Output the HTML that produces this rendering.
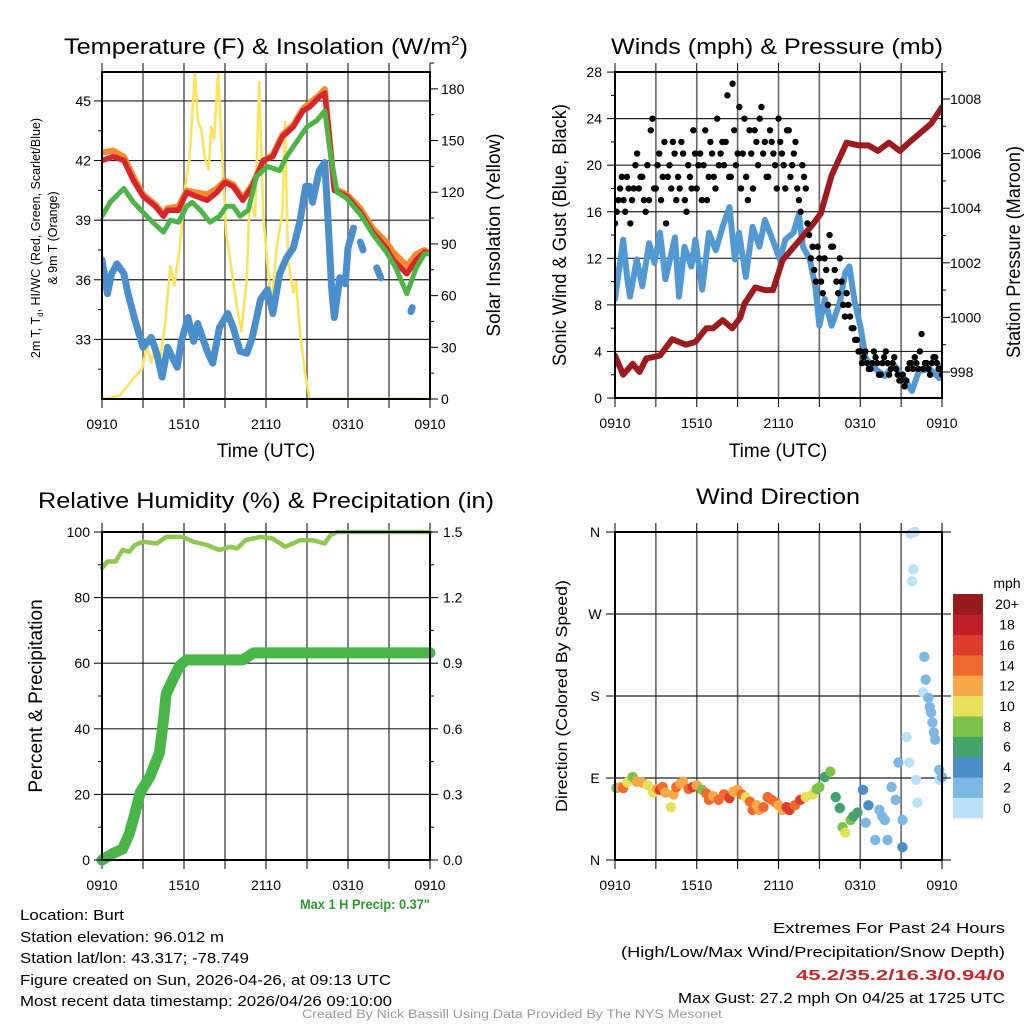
<!DOCTYPE html>
<html><head><meta charset="utf-8"><style>
html,body{margin:0;padding:0;background:#fff;}
svg{display:block;font-family:"Liberation Sans",Arial,sans-serif;}
</style></head><body>
<svg id="root" xmlns="http://www.w3.org/2000/svg" width="1024" height="1024" viewBox="0 0 1024 1024">
<rect width="1024" height="1024" fill="#fff"/>
<g id="p1"></g>
<g id="p2"></g>
<g id="p3"></g>
<g id="p4"></g>
<g id="txt">
<text x="266" y="54" font-size="22" text-anchor="middle" textLength="404" lengthAdjust="spacingAndGlyphs">Temperature (F) &amp; Insolation (W/m<tspan font-size="13" dy="-9">2</tspan><tspan dy="9">)</tspan></text>
<text x="777" y="54" font-size="22" text-anchor="middle" textLength="332" lengthAdjust="spacingAndGlyphs">Winds (mph) &amp; Pressure (mb)</text>
<text x="266" y="508" font-size="22" text-anchor="middle" textLength="456" lengthAdjust="spacingAndGlyphs">Relative Humidity (%) &amp; Precipitation (in)</text>
<text x="778" y="504" font-size="22" text-anchor="middle" textLength="164" lengthAdjust="spacingAndGlyphs">Wind Direction</text>
<text x="266" y="457" font-size="19" text-anchor="middle">Time (UTC)</text>
<text x="778" y="457" font-size="19" text-anchor="middle">Time (UTC)</text>
<text transform="translate(40,238) rotate(-90)" font-size="12.5" text-anchor="middle">2m T, T<tspan font-size="8" dy="3">d</tspan><tspan dy="-3">, HI/WC (Red, Green, Scarlet/Blue)</tspan></text>
<text transform="translate(57,238) rotate(-90)" font-size="12.5" text-anchor="middle">&amp; 9m T (Orange)</text>
<text transform="translate(500,235) rotate(-90)" font-size="19" text-anchor="middle">Solar Insolation (Yellow)</text>
<text transform="translate(566,235) rotate(-90)" font-size="19" text-anchor="middle" textLength="262" lengthAdjust="spacingAndGlyphs">Sonic Wind &amp; Gust (Blue, Black)</text>
<text transform="translate(1020,252) rotate(-90)" font-size="19" text-anchor="middle" textLength="212" lengthAdjust="spacingAndGlyphs">Station Pressure (Maroon)</text>
<text transform="translate(42,696) rotate(-90)" font-size="19" text-anchor="middle">Percent &amp; Precipitation</text>
<text transform="translate(567,696) rotate(-90)" font-size="16" text-anchor="middle" textLength="232" lengthAdjust="spacingAndGlyphs">Direction (Colored By Speed)</text>
<text x="430" y="909" font-size="14" font-weight="bold" fill="#2e9a2e" text-anchor="end" textLength="130" lengthAdjust="spacingAndGlyphs">Max 1 H Precip: 0.37"</text>
<g font-size="14.5">
<text x="20" y="920" textLength="104" lengthAdjust="spacingAndGlyphs">Location: Burt</text>
<text x="20" y="942" textLength="204" lengthAdjust="spacingAndGlyphs">Station elevation: 96.012 m</text>
<text x="20" y="963" textLength="229" lengthAdjust="spacingAndGlyphs">Station lat/lon: 43.317; -78.749</text>
<text x="20" y="985" textLength="371" lengthAdjust="spacingAndGlyphs">Figure created on Sun, 2026-04-26, at 09:13 UTC</text>
<text x="20" y="1006" textLength="372" lengthAdjust="spacingAndGlyphs">Most recent data timestamp: 2026/04/26 09:10:00</text>
</g>
<g font-size="14.5" text-anchor="end">
<text x="1005" y="933" textLength="232" lengthAdjust="spacingAndGlyphs">Extremes For Past 24 Hours</text>
<text x="1005" y="957" textLength="384" lengthAdjust="spacingAndGlyphs">(High/Low/Max Wind/Precipitation/Snow Depth)</text>
<text x="1005" y="980" font-weight="bold" fill="#c8262b" textLength="209" lengthAdjust="spacingAndGlyphs">45.2/35.2/16.3/0.94/0</text>
<text x="1005" y="1003" textLength="327" lengthAdjust="spacingAndGlyphs">Max Gust: 27.2 mph On 04/25 at 1725 UTC</text>
</g>
<text x="512" y="1018" font-size="11.5" fill="#999" text-anchor="middle" textLength="420" lengthAdjust="spacingAndGlyphs">Created By Nick Bassill Using Data Provided By The NYS Mesonet</text>
</g>
</svg>
<script>
// ---------- DATA ----------
const xTickLabels = ["0910","1510","2110","0310","0910"];
const tempTicks = [33,36,39,42,45];
const insolTicks = [0,30,60,90,120,150,180];
const windTicks = [0,4,8,12,16,20,24,28];
const presTicks = [998,1000,1002,1004,1006,1008];
const rhTicks = [0,20,40,60,80,100];
const precipTicks = ["0.0","0.3","0.6","0.9","1.2","1.5"];
const dirTickLabels = ["N","E","S","W","N"];
const speedLabels = ["0","2","4","6","8","10","12","14","16","18","20+"];
const speedColors = ["#b9e2f8","#7db8e4","#4a8ec8","#44a26c","#7cc14a","#e6e05a","#f6a746","#ef6a2e","#df3b2d","#c01f28","#961b1f"];

const redT = [0,0.8,1.6,2.3,3.0,3.9,4.5,4.8,5.6,6.2,6.9,7.7,8.4,9.0,9.6,10.3,11.0,11.8,12.5,13.2,14.0,14.7,15.2,15.9,16.3,16.7,17.0,17.9,18.9,19.8,20.8,21.3,22.3,23.0,23.6,24];
const redV = [42.0,42.2,42.0,41.0,40.2,39.7,39.2,39.5,39.5,40.4,40.2,40.0,40.4,40.9,40.7,40.0,40.7,42.0,42.2,43.2,43.7,44.5,44.7,45.2,45.4,42.7,40.5,40.2,39.4,38.4,37.6,37.0,36.3,37.0,37.4,37.3];
const orangeV = [42.4,42.5,42.2,41.2,40.3,39.8,39.3,39.6,39.7,40.5,40.4,40.3,40.6,41.0,40.8,40.1,40.8,42.0,42.3,43.3,43.8,44.6,44.9,45.3,45.6,42.8,40.6,40.3,39.6,38.6,37.9,37.4,36.7,37.3,37.5,37.3];
const greenT = [0,0.6,1.6,2.3,3.0,3.7,4.5,5.0,5.6,6.2,6.6,7.2,7.9,8.6,9.1,9.6,10.1,10.7,11.3,12.1,13.0,13.5,14.3,15.0,15.7,16.3,16.7,17.2,17.9,18.9,19.8,20.8,21.5,22.3,23.0,23.6,24];
const greenV = [39.2,39.9,40.6,39.9,39.4,38.9,38.4,39.0,38.9,39.7,39.9,39.5,38.9,39.2,39.7,39.7,39.2,39.5,41.2,41.7,41.5,42.2,43.0,43.7,44.0,44.5,42.4,40.4,40.1,39.3,38.3,37.4,36.6,35.3,36.6,37.3,37.3];
const dewT = [0,0.4,0.7,1.1,1.6,1.9,2.4,3.0,3.6,4.0,4.4,4.8,5.5,5.8,6.3,6.7,7.0,7.7,8.1,8.6,9.2,9.6,10.1,10.6,11.0,11.6,12.1,12.5,13.0,13.5,14.0,14.5,14.9,15.2,15.4,15.9,16.3,16.5,16.8,17.0,17.4,17.8,18.0,18.4,18.6,18.9,19.1,19.2,20.1,20.4,20.5,22.6,22.7,22.9,23.1];
const dewV = [37.0,35.3,36.3,36.8,36.3,35.3,34.0,32.6,33.1,32.3,31.1,32.6,31.6,32.9,34.1,32.9,33.8,32.4,31.8,33.6,34.3,33.6,32.4,32.3,33.1,35.0,35.5,34.3,36.3,37.1,37.6,39.0,40.7,40.7,39.9,41.5,41.9,39.5,35.6,34.1,36.1,35.8,37.6,38.6,null,37.9,37.5,null,36.6,36.1,null,34.4,34.6,null,35.0];
const insolT = [0,1.3,2.3,2.9,3.3,3.6,3.9,4.2,4.6,5.0,5.3,5.7,6.1,6.4,6.8,7.0,7.3,7.5,7.8,8.0,8.2,8.5,8.8,9.1,9.5,9.9,10.2,10.6,10.8,11.2,11.5,11.8,12.1,12.4,12.8,13.2,13.4,13.6,14.0,14.2,14.5,14.9,15.2,24];
const insolV = [0,2,12,17,31,21,31,21,42,77,66,89,124,139,190,162,155,141,133,158,151,190,139,95,74,52,39,71,116,106,184,106,79,54,89,108,161,81,62,68,37,13,0,0];

const presT = [0,0.6,1.3,1.8,2.3,3.3,4.2,5.2,5.9,6.7,7.2,7.9,8.6,9.2,9.5,10.3,11.0,11.6,12.3,13.5,14.5,15.1,15.9,17.0,17.9,18.6,19.3,20.1,20.9,21.8,22.5,23.2,24];
const presV = [998.6,997.9,998.3,998.0,998.5,998.6,999.2,999.0,999.1,999.6,999.6,999.9,999.6,1000.0,1000.5,1001.1,1001.0,1001.0,1002.1,1002.8,1003.4,1003.8,1005.2,1006.4,1006.3,1006.3,1006.1,1006.4,1006.1,1006.5,1006.8,1007.1,1007.7];
const windT = [0,0.6,0.9,1.1,1.6,2.0,2.5,2.9,3.3,3.7,4.4,4.7,5.1,5.6,5.9,6.4,6.9,7.4,7.9,8.4,8.8,9.1,9.6,10.1,10.6,11.0,11.5,12.1,12.5,13.1,13.5,13.8,14.3,14.7,15.0,15.4,15.9,16.5,16.9,17.2,17.6,18.0,18.4,19.1,19.8,20.5,21.1,21.8,22.3,23.1,23.8,24];
const windV = [8.5,13.6,10.2,8.7,11.9,9.6,13.3,11.6,14.2,10.2,13.8,8.7,13.0,11.3,13.6,9.3,14.2,12.7,14.7,16.4,11.9,14.2,10.4,14.7,13.0,15.3,13.8,11.9,13.6,14.2,15.8,13.0,11.9,9.6,6.2,8.5,6.2,8.2,10.8,11.3,8.2,6.2,3.4,2.5,1.9,2.8,1.9,0.6,2.3,2.5,1.7,2.8];
const gustA = [15,17,19,16,18,17,20,18, 19,16,17,24,18,21,19,15, 20,22,17,18,21,16,19,23, 18,21,20,17,22,19,24,21, 20,26,19,23,21,18,24,17, 21,23,20,25,22,19,22,20, 24,21,18,23,20,22,17,20, 18,14,13,10,12,9,11,14, 13,10,12,8,9,7,6,5, 4,3.5,3,2.5,4,3,2,3.5, 3,2.5,3.5,2,1.5,1,2.5,3, 3.5,2.5,5.5,3,2.5,3,3.5,2.5,2];
const gustB = [16,18,17,19,15,18,21,19, 17,20,23,18,20,17,22,19, 18,21,19,22,17,20,18,21, 20,17,23,19,21,18,20,22, 22,19,27,20,25,21,19,23, 18,22,24,21,19,23,21,18, 22,20,23,19,21,18,16,19, 15,12,11,13,10,12,8,13, 11,9,10,7,8,6,5,4, 3,4,2.5,3,3.5,2,3,4, 2,3,2.5,1.5,2,1.5,3,2.5, 3,4,2.5,3,2,3.5,3,2.5];

const rhT = [0,0.4,1.0,1.5,2.0,2.4,3.0,4.0,4.7,5.9,6.7,7.7,8.6,9.4,9.9,10.5,11.6,12.5,13.4,14.5,15.4,16.3,16.7,17.2,24];
const rhV = [89,91,91,94.5,94,96,97,96.5,98.5,98.5,97,96,94.5,95.5,95,97.5,98.5,98,95.5,97.5,97.5,96.5,99,100,100];
const prT = [0,0.8,1.5,2.0,2.4,2.8,3.5,4.2,4.5,4.7,5.3,5.7,6.2,10.3,11.1,24];
const prV = [0,0.03,0.05,0.12,0.21,0.31,0.38,0.49,0.64,0.76,0.84,0.89,0.915,0.915,0.947,0.947];

const dirT = [0.1,0.4,0.6,0.9,1.3,1.6,2.0,2.4,2.8,3.1,3.3,3.5,3.7,4.1,4.3,4.5,4.8,5.0,5.4,5.7,6.0,6.4,6.7,6.9,7.2,7.6,8.0,8.4,8.7,9.0,9.3,9.6,9.9,10.1,10.4,10.6,10.9,11.2,11.5,11.8,12.0,12.3,12.6,12.8,13.2,13.6,14.0,14.5,14.8,15.0,15.4,15.8,16.2,16.5,16.7,16.9,17.3,17.5,17.8,18.2,18.4,18.6,19.1,19.4,19.6,19.8,20.0,20.3,20.6,20.8,21.1,21.1,21.4,21.6,21.7,22.0,21.8,21.9,22.1,22.2,22.7,22.8,22.6,23.0,23.1,23.2,23.3,23.4,23.5,23.8,23.8,24.0];
const dirV = [79,80,79,85,91,86,85,82,74,78,77,80,74,58,72,80,84,86,78,80,82,77,73,66,70,66,72,68,75,77,72,69,64,55,60,55,58,69,66,63,60,55,58,55,60,66,69,72,78,80,91,97,69,57,36,30,44,48,52,77,41,60,22,55,48,44,22,80,66,107,44,14,135,107,358,360,306,319,88,63,223,198,184,178,168,162,151,140,132,99,88,91];
const dirS = [8,12,14,10,8,12,12,10,10,12,16,14,12,10,12,14,12,12,14,16,12,8,14,14,12,14,14,16,12,12,14,10,14,14,12,12,14,14,14,14,12,12,16,16,14,16,10,10,8,8,6,8,6,6,8,10,8,6,6,4,2,4,2,2,2,2,2,2,2,2,2,4,0,0,0,0,0,0,0,0,2,2,0,2,2,2,2,2,2,2,0,2];

// ---------- HELPERS ----------
const NS = "http://www.w3.org/2000/svg";
function mk(parent, tag, attrs) {
  const e = document.createElementNS(NS, tag);
  for (const k in attrs) e.setAttribute(k, attrs[k]);
  parent.appendChild(e);
  return e;
}
function txt(parent, x, y, s, size, anchor) {
  const e = mk(parent, "text", {x: x, y: y, "font-size": size, "text-anchor": anchor || "middle"});
  e.textContent = s;
  return e;
}
function polyline(g, ts, vs, xf, yf, color, w) {
  let seg = [];
  const segs = [];
  for (let i = 0; i < ts.length; i++) {
    if (vs[i] === null) { if (seg.length) segs.push(seg); seg = []; continue; }
    seg.push(xf(ts[i]).toFixed(1) + "," + yf(vs[i]).toFixed(1));
  }
  if (seg.length) segs.push(seg);
  segs.forEach(s => {
    const p = mk(g, "polyline", {points: s.join(" "), fill: "none", stroke: color, "stroke-width": w, "stroke-linejoin": "round", "stroke-linecap": "round"});
    
    
  });
}
function frame(g, X0, X1, Y0, Y1, hGridYs) {
  const clip = mk(g, "g", {});
  for (let i = 1; i < 8; i++) {
    const x = X0 + i * (X1 - X0) / 8;
    const l = mk(g, "line", {x1: x, x2: x, y1: Y0, y2: Y1, stroke: "#666", "stroke-width": 1.6});
    
    
  }
  hGridYs.forEach(y => {
    const l = mk(g, "line", {x1: X0, x2: X1, y1: y, y2: y, stroke: "#222", "stroke-width": 1.2});
    
    
  });
  for (let i = 0; i <= 8; i++) {
    const x = X0 + i * (X1 - X0) / 8;
    mk(g, "line", {x1: x, x2: x, y1: Y0 - 9, y2: Y0, stroke: "#000", "stroke-width": 1});
    mk(g, "line", {x1: x, x2: x, y1: Y1, y2: Y1 + 9, stroke: "#000", "stroke-width": 1});
  }
  xTickLabels.forEach((s, i) => {
    const t = txt(g, X0 + i * (X1 - X0) / 4, Y1 + 30, s, 14);
    
    
  });
  return clip;
}
function border(g, X0, X1, Y0, Y1) {
  const r = mk(g, "rect", {x: X0, y: Y0, width: X1 - X0, height: Y1 - Y0, fill: "none", stroke: "#000", "stroke-width": 2});
  
  
}
function clipRect(id, X0, X1, Y0, Y1) {
  const svg = document.getElementById("root");
  let defs = svg.querySelector("defs") || mk(svg, "defs", {});
  const c = mk(defs, "clipPath", {id: id});
  mk(c, "rect", {x: X0, y: Y0, width: X1 - X0, height: Y1 - Y0});
}

// ---------- PANEL 1 ----------
(function () {
  const g = document.getElementById("p1");
  const X0 = 102, X1 = 430, Y0 = 72, Y1 = 399;
  const xs = t => X0 + t / 24 * (X1 - X0);
  const yT = v => 399 - (v - 30) * 19.87;
  const yI = v => 399 - v * 1.723;
  frame(g, X0, X1, Y0, Y1, tempTicks.map(yT));
  clipRect("c1", X0, X1, Y0, Y1);
  const d = mk(g, "g", {"clip-path": "url(#c1)"});
  
  
  polyline(d, insolT, insolV, xs, yI, "#fde35c", 2.6);
  polyline(d, dewT, dewV, xs, yT, "#4a8fcb", 7);
  polyline(d, redT, orangeV, xs, yT, "#f58a2f", 6);
  polyline(d, redT, redV, xs, yT, "#d7262a", 5.5);
  polyline(d, greenT, greenV, xs, yT, "#4db547", 5);
  border(g, X0, X1, Y0, Y1);
  tempTicks.forEach(v => {
    mk(g, "line", {x1: X0 - 8, x2: X0, y1: yT(v), y2: yT(v), stroke: "#000"});
    mk(g, "line", {x1: X0 - 4, x2: X0, y1: yT(v - 1.5), y2: yT(v - 1.5), stroke: "#000"});
    const t = txt(g, X0 - 11, yT(v) + 5, String(v), 14, "end");
    
    
  });
  insolTicks.forEach(v => {
    mk(g, "line", {x1: X1, x2: X1 + 8, y1: yI(v), y2: yI(v), stroke: "#000"});
    mk(g, "line", {x1: X1, x2: X1 + 4, y1: yI(v + 15), y2: yI(v + 15), stroke: "#000"});
    const t = txt(g, X1 + 11, yI(v) + 5, String(v), 14, "start");
    
    
  });
})();

// ---------- PANEL 2 ----------
(function () {
  const g = document.getElementById("p2");
  const X0 = 615, X1 = 942, Y0 = 72, Y1 = 398;
  const xs = t => X0 + t / 24 * (X1 - X0);
  const yW = v => 398 - v * 11.64;
  const yP = v => 372 - (v - 998) * 27.3;
  frame(g, X0, X1, Y0, Y1, windTicks.slice(1, 7).map(yW));
  clipRect("c2", X0, X1, Y0, Y1);
  const d = mk(g, "g", {"clip-path": "url(#c2)"});
  
  
  polyline(d, windT, windV, xs, yW, "#5299d3", 6);
  polyline(d, presT, presV, xs, yP, "#9b1b1f", 6);
  gustA.forEach((v, i) => {
    const c = mk(d, "circle", {cx: xs(i * 0.25), cy: yW(v), r: 3.2, fill: "#000"});
    
    
  });
  gustB.forEach((v, i) => {
    const c = mk(d, "circle", {cx: xs(i * 0.25 + 0.125), cy: yW(v), r: 3.2, fill: "#000"});
    
    
  });
  border(g, X0, X1, Y0, Y1);
  windTicks.forEach(v => {
    mk(g, "line", {x1: X0 - 8, x2: X0, y1: yW(v), y2: yW(v), stroke: "#000"});
    if (v < 28) mk(g, "line", {x1: X0 - 4, x2: X0, y1: yW(v + 2), y2: yW(v + 2), stroke: "#000"});
    const t = txt(g, X0 - 13, yW(v) + 5, String(v), 14, "end");
    
    
  });
  presTicks.forEach(v => {
    mk(g, "line", {x1: X1, x2: X1 + 8, y1: yP(v), y2: yP(v), stroke: "#000"});
    mk(g, "line", {x1: X1, x2: X1 + 4, y1: yP(v + 1), y2: yP(v + 1), stroke: "#000"});
    const t = txt(g, X1 + 8, yP(v) + 5, String(v), 14, "start");
    
    
  });
})();

// ---------- PANEL 3 ----------
(function () {
  const g = document.getElementById("p3");
  const X0 = 102, X1 = 430, Y0 = 532, Y1 = 860;
  const xs = t => X0 + t / 24 * (X1 - X0);
  const yR = v => 860 - v * 3.28;
  const yPr = v => 860 - v / 1.5 * 328;
  frame(g, X0, X1, Y0, Y1, [20, 40, 60, 80].map(yR));
  clipRect("c3", X0 - 8, X1 + 8, Y0 - 3, Y1 + 8);
  const d = mk(g, "g", {"clip-path": "url(#c3)"});
  
  
  polyline(d, rhT, rhV, xs, yR, "#8dc94f", 4.5);
  polyline(d, prT, prV, xs, yPr, "#48b548", 11);
  border(g, X0, X1, Y0, Y1);
  rhTicks.forEach(v => {
    mk(g, "line", {x1: X0 - 8, x2: X0, y1: yR(v), y2: yR(v), stroke: "#000"});
    if (v < 100) mk(g, "line", {x1: X0 - 4, x2: X0, y1: yR(v + 10), y2: yR(v + 10), stroke: "#000"});
    const t = txt(g, X0 - 12, yR(v) + 5, String(v), 14, "end");
    
    
  });
  precipTicks.forEach((s, i) => {
    const y = yPr(i * 0.3);
    mk(g, "line", {x1: X1, x2: X1 + 8, y1: y, y2: y, stroke: "#000"});
    if (i < 5) mk(g, "line", {x1: X1, x2: X1 + 4, y1: yPr(i * 0.3 + 0.15), y2: yPr(i * 0.3 + 0.15), stroke: "#000"});
    const t = txt(g, X1 + 13, y + 5, s, 14, "start");
    
    
  });
})();

// ---------- PANEL 4 ----------
(function () {
  const g = document.getElementById("p4");
  const X0 = 615, X1 = 942, Y0 = 532, Y1 = 860;
  const xs = t => X0 + t / 24 * (X1 - X0);
  const yD = v => 860 - v / 360 * 328;
  frame(g, X0, X1, Y0, Y1, [90, 180, 270].map(yD));
  clipRect("c4", X0 - 6, X1 + 6, Y0 - 6, Y1);
  const d = mk(g, "g", {"clip-path": "url(#c4)"});
  
  
  dirT.forEach((t, i) => {
    const c = mk(d, "circle", {cx: xs(t), cy: yD(dirV[i]), r: 5.2, fill: speedColors[Math.min(10, Math.round(dirS[i] / 2))]});
    
    
  });
  border(g, X0, X1, Y0, Y1);
  dirTickLabels.forEach((s, i) => {
    const y = yD(i * 90);
    mk(g, "line", {x1: X0 - 9, x2: X0, y1: y, y2: y, stroke: "#000"});
    mk(g, "line", {x1: X1, x2: X1 + 9, y1: y, y2: y, stroke: "#000"});
    const t = txt(g, X0 - 20, y + 5, s, 14, "middle");
    
    
  });
  const lg = mk(g, "g", {});
  
  
  const t0 = txt(lg, 1007, 588, "mph", 14, "middle");
  
  
  const bh = (818 - 594) / 11;
  speedLabels.forEach((s, i) => {
    const y = 818 - (i + 1) * bh;
    const r = mk(lg, "rect", {x: 953, y: y, width: 30, height: bh + 0.3, fill: speedColors[i]});
    
    
    const t = txt(lg, 1007, y + bh / 2 + 5, s, 14, "middle");
    
    
  });
})();
</script>
</body></html>
